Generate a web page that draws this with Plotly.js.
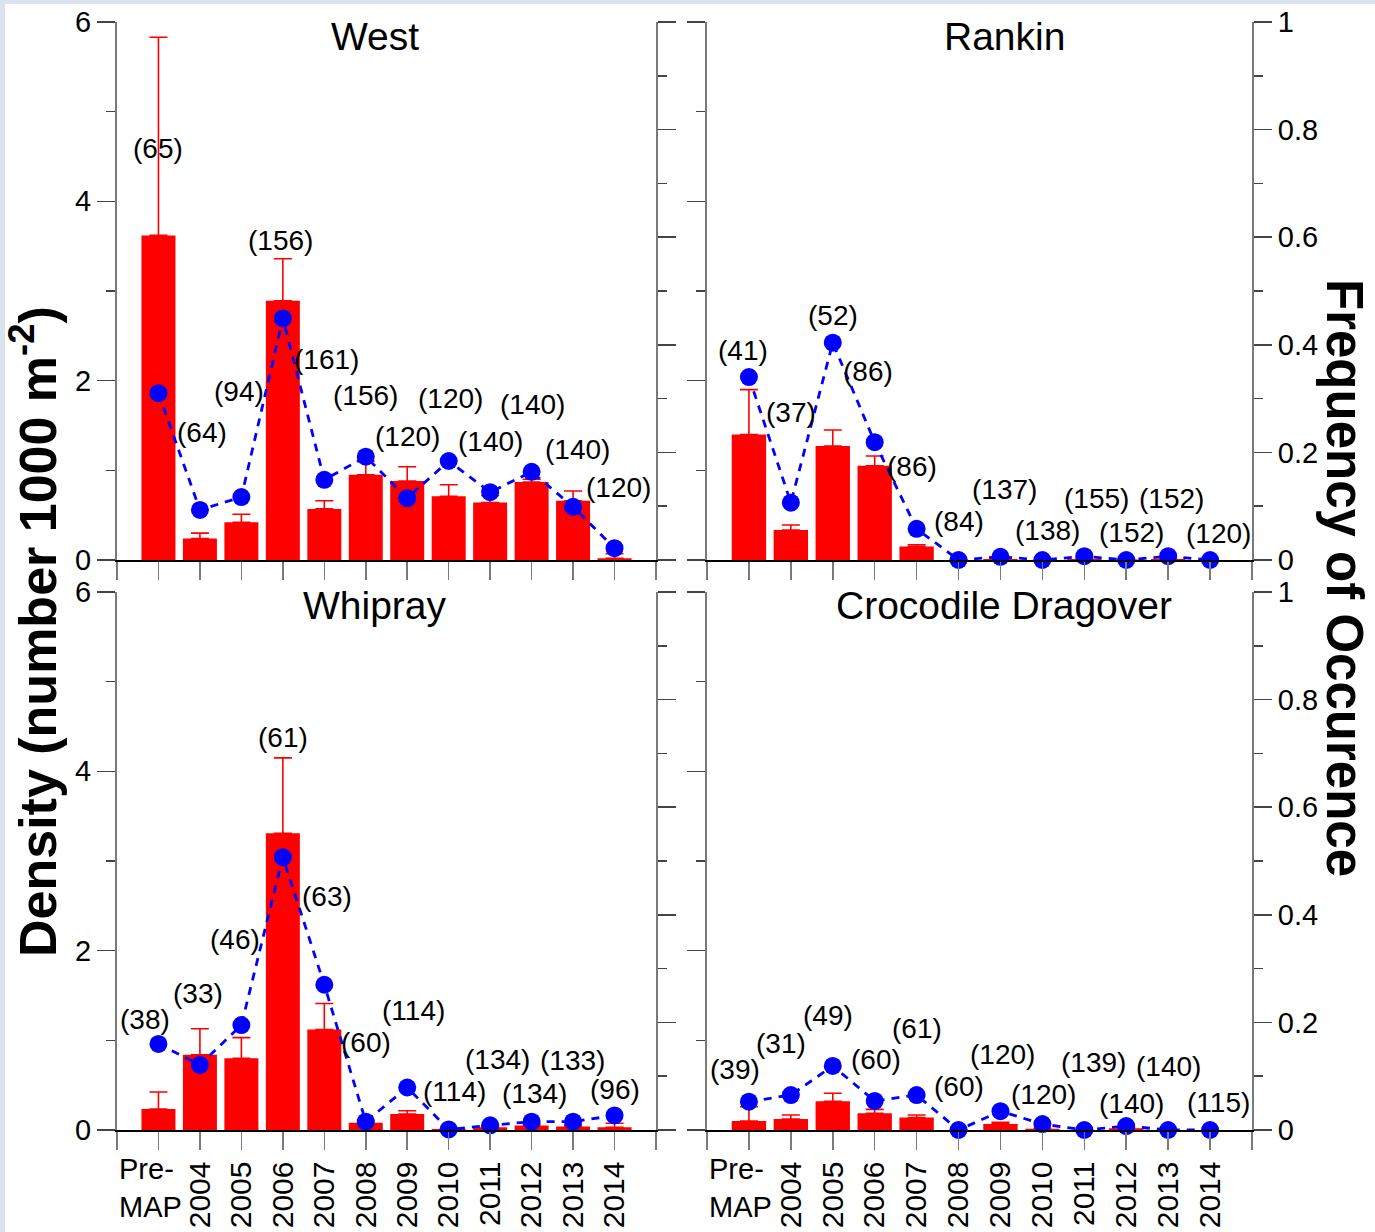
<!DOCTYPE html>
<html>
<head>
<meta charset="utf-8">
<script src="https://cdn.plot.ly/plotly-3.0.1.min.js"></script>
<style>
  html, body { margin: 0; padding: 0; background: #ffffff; }
  #chart { width: 1375px; height: 1232px; }
</style>
</head>
<body>
<div id="chart"></div>
<script>
// ---------- DATA ----------
const categories = ['Pre-MAP','2004','2005','2006','2007','2008','2009','2010','2011','2012','2013','2014'];
const panelNames = ['West', 'Rankin', 'Whipray', 'Crocodile Dragover'];

// West
const westDensity = [3.62, 0.24, 0.42, 2.89, 0.57, 0.95, 0.88, 0.71, 0.64, 0.87, 0.66, 0.02];
const westErrUp   = [2.21, 0.06, 0.09, 0.47, 0.09, 0.15, 0.16, 0.13, 0.08, 0.03, 0.11, 0.05];
const westFreq    = [0.31, 0.093, 0.117, 0.449, 0.149, 0.192, 0.115, 0.184, 0.126, 0.164, 0.099, 0.022];
const westN       = [65, 64, 94, 156, 161, 156, 120, 120, 140, 140, 140, 120];

// Rankin
const rankinDensity = [1.40, 0.335, 1.27, 1.05, 0.15, 0.0, 0.01, 0.0, 0.01, 0.005, 0.01, 0.0];
const rankinErrUp   = [0.50, 0.055, 0.18, 0.11, 0.02, 0.0, 0.01, 0.0, 0.01, 0.005, 0.01, 0.0];
const rankinFreq    = [0.34, 0.1065, 0.404, 0.219, 0.058, 0.0, 0.006, 0.0, 0.007, 0.0, 0.007, 0.0];
const rankinN       = [41, 37, 52, 86, 86, 84, 137, 138, 155, 152, 152, 120];

// Whipray
const whiprayDensity = [0.234, 0.84, 0.80, 3.31, 1.12, 0.08, 0.178, 0.01, 0.03, 0.05, 0.04, 0.03];
const whiprayErrUp   = [0.19, 0.29, 0.23, 0.84, 0.29, 0.03, 0.037, 0.005, 0.01, 0.02, 0.02, 0.045];
const whiprayFreq    = [0.16, 0.121, 0.195, 0.507, 0.27, 0.0155, 0.079, 0.001, 0.0087, 0.0155, 0.0155, 0.027];
const whiprayN       = [38, 33, 46, 61, 63, 60, 114, 114, 134, 134, 133, 96];

// Crocodile Dragover
const crocDensity = [0.10, 0.123, 0.32, 0.186, 0.14, 0.0, 0.067, 0.015, 0.0, 0.02, 0.0, 0.0];
const crocErrUp   = [0.16, 0.044, 0.09, 0.044, 0.027, 0.0, 0.018, 0.005, 0.0, 0.005, 0.0, 0.0];
const crocFreq    = [0.0526, 0.065, 0.119, 0.054, 0.065, 0.0, 0.035, 0.011, 0.0, 0.0074, 0.0, 0.0];
const crocN       = [39, 31, 49, 60, 61, 60, 120, 120, 139, 140, 140, 115];

// ---------- LABEL PLACEMENT (layout only) ----------
const westLabelDx = [0, 0.05, -0.05, -0.05, 0.05, 0, 0, 0.05, 0.02, 0.02, 0.1, 0.1];
const westLabelY  = [4.59, 1.42, 1.88, 3.56, 2.24, 1.83, 1.38, 1.80, 1.32, 1.73, 1.23, 0.81];
const rankinLabelDx = [-0.15, 0, 0, -0.15, -0.1, 0, 0.1, 0.12, 0.3, 0.12, 0.07, 0.2];
const rankinLabelY  = [2.34, 1.64, 2.73, 2.10, 1.04, 0.43, 0.79, 0.33, 0.69, 0.31, 0.69, 0.30];
const whiprayLabelDx = [-0.33, -0.05, -0.15, 0, 0.06, 0, 0.14, 0.15, 0.17, 0.08, -0.02, 0];
const whiprayLabelY  = [1.23, 1.52, 2.12, 4.38, 2.60, 0.98, 1.33, 0.43, 0.79, 0.41, 0.78, 0.45];
const crocLabelDx = [-0.33, -0.24, -0.12, 0.02, 0, 0, 0.04, 0.02, 0.22, 0.12, 0, 0.19];
const crocLabelY  = [0.67, 0.97, 1.28, 0.79, 1.13, 0.49, 0.84, 0.40, 0.75, 0.30, 0.71, 0.31];

// ---------- BUILD ----------
const W = 1375, H = 1232;
const FONT = 'Arial, "Liberation Sans", Helvetica, sans-serif';
const AX_GRAY = '#7a7a7a';
const TICK_SIZE = 29;
const xIdx = categories.map((c, i) => i);

const panels = [
  {name: panelNames[0], d: westDensity, e: westErrUp, f: westFreq, n: westN, dx: westLabelDx, ly: westLabelY,
   px: [117, 656], py: [22, 560], left: true, bottom: false},
  {name: panelNames[1], d: rankinDensity, e: rankinErrUp, f: rankinFreq, n: rankinN, dx: rankinLabelDx, ly: rankinLabelY,
   px: [707, 1252], py: [22, 560], left: false, bottom: false},
  {name: panelNames[2], d: whiprayDensity, e: whiprayErrUp, f: whiprayFreq, n: whiprayN, dx: whiprayLabelDx, ly: whiprayLabelY,
   px: [117, 656], py: [592, 1130], left: true, bottom: true},
  {name: panelNames[3], d: crocDensity, e: crocErrUp, f: crocFreq, n: crocN, dx: crocLabelDx, ly: crocLabelY,
   px: [707, 1252], py: [592, 1130], left: false, bottom: true}
];

const traces = [];
const layout = {
  width: W, height: H,
  margin: {l: 0, r: 0, t: 0, b: 0},
  paper_bgcolor: '#ffffff',
  plot_bgcolor: 'rgba(0,0,0,0)',
  showlegend: false,
  font: {family: FONT, size: TICK_SIZE, color: '#000'},
  annotations: [],
  shapes: [
    {type: 'rect', xref: 'paper', yref: 'paper', x0: 0, x1: 5 / W, y0: 0, y1: 1, fillcolor: '#dae3ef', line: {width: 0}, layer: 'below'},
    {type: 'rect', xref: 'paper', yref: 'paper', x0: 0, x1: 1, y0: 1 - 4 / H, y1: 1, fillcolor: '#dae3ef', line: {width: 0}, layer: 'below'}
  ]
};

panels.forEach((p, k) => {
  const xa = 'x' + (k === 0 ? '' : k + 1);
  const ya = 'y' + (2 * k + 1 === 1 ? '' : 2 * k + 1);
  const ya2 = 'y' + (2 * k + 2);
  const xKey = 'xaxis' + (k === 0 ? '' : k + 1);
  const yKey = 'yaxis' + (2 * k + 1 === 1 ? '' : 2 * k + 1);
  const y2Key = 'yaxis' + (2 * k + 2);

  traces.push({
    type: 'bar', x: xIdx, y: p.d, xaxis: xa, yaxis: ya,
    width: 0.82,
    marker: {color: '#ff0000', line: {width: 0}},
    error_y: {type: 'data', symmetric: false, array: p.e, arrayminus: p.e.map(() => 0),
              color: '#ff0000', thickness: 1.6, width: 9},
    cliponaxis: false, hoverinfo: 'skip'
  });
  traces.push({
    type: 'scatter', mode: 'lines+markers', x: xIdx, y: p.f, xaxis: xa, yaxis: ya2,
    line: {color: '#0000ff', width: 2.8, dash: '8px,7px'},
    marker: {color: '#0000ff', size: 18},
    cliponaxis: false, hoverinfo: 'skip'
  });

  const domX = [p.px[0] / W, p.px[1] / W];
  const domY = [1 - p.py[1] / H, 1 - p.py[0] / H];

  // years as rotated tick labels; Pre-MAP drawn horizontally as an annotation below
  const tickvals = [-1].concat(xIdx).concat([12]);
  const ticktext = [' '].concat(categories.map((c, i) => i === 0 ? ' ' : c)).concat([' ']);

  layout[xKey] = {
    domain: domX, anchor: ya, range: [-1, 12],
    tickmode: 'array', tickvals: tickvals, ticktext: ticktext,
    ticks: 'outside', ticklen: 18, tickwidth: 1.5, tickcolor: AX_GRAY,
    showline: true, linecolor: '#000', linewidth: 1.5,
    showgrid: false, zeroline: false,
    showticklabels: p.bottom, tickangle: -90,
    tickfont: {family: FONT, size: TICK_SIZE + 1, color: '#000'},
    fixedrange: true
  };
  layout[yKey] = {
    domain: domY, anchor: xa, range: [0, 6],
    tickmode: 'array', tickvals: [0, 2, 4, 6],
    ticks: 'outside', ticklen: 18, tickwidth: 1.5, tickcolor: '#444',
    minor: {ticks: 'outside', ticklen: 9, tickwidth: 1.5, tickcolor: '#444', tickmode: 'array', tickvals: [1, 3, 5], showgrid: false},
    showline: true, linecolor: AX_GRAY, linewidth: 2,
    showgrid: false, zeroline: false,
    showticklabels: p.left,
    tickfont: {family: FONT, size: TICK_SIZE, color: '#000'},
    fixedrange: true
  };
  layout[y2Key] = {
    domain: domY, anchor: xa, overlaying: ya, side: 'right', range: [0, 1],
    tickmode: 'array', tickvals: [0, 0.2, 0.4, 0.6, 0.8, 1], ticktext: ['0', '0.2', '0.4', '0.6', '0.8', '1'],
    ticks: 'outside', ticklen: 18, tickwidth: 1.5, tickcolor: '#444',
    minor: {ticks: 'outside', ticklen: 9, tickwidth: 1.5, tickcolor: '#444', tickmode: 'array', tickvals: [0.1, 0.3, 0.5, 0.7, 0.9], showgrid: false},
    showline: true, linecolor: AX_GRAY, linewidth: 2,
    showgrid: false, zeroline: false,
    showticklabels: !p.left,
    tickfont: {family: FONT, size: TICK_SIZE, color: '#000'},
    fixedrange: true
  };

  // sample-size labels
  p.n.forEach((v, i) => {
    layout.annotations.push({
      xref: xa, yref: ya, x: i + p.dx[i], y: p.ly[i],
      text: '(' + v + ')', showarrow: false,
      font: {family: FONT, size: 28, color: '#000'}
    });
  });

  // panel title
  layout.annotations.push({
    xref: 'paper', yref: 'paper',
    x: (p.left ? 375 : 1004) / W, y: 1 - (p.py[0] + 14) / H,
    text: p.name, showarrow: false, xanchor: 'center', yanchor: 'middle',
    font: {family: FONT, size: 39, color: '#000'}
  });

  // Pre-MAP category label (horizontal, unlike the rotated years)
  if (p.bottom) {
    layout.annotations.push({
      xref: xa, yref: 'paper', x: 0, xshift: -8,
      y: 1 - 1151 / H, yanchor: 'top', xanchor: 'center', align: 'left',
      text: categories[0].replace('-', '-<br>'), showarrow: false,
      font: {family: FONT, size: 29, color: '#000'}
    });
  }
});

// axis titles
layout.annotations.push({
  xref: 'paper', yref: 'paper', x: 34 / W, y: 1 - 632 / H,
  text: 'Density (number 1000 m<sup>-2</sup>)', textangle: -90, showarrow: false,
  xanchor: 'center', yanchor: 'middle',
  font: {family: FONT, size: 52, color: '#000', weight: 'bold'}
});
layout.annotations.push({
  xref: 'paper', yref: 'paper', x: 1344 / W, y: 1 - 578 / H,
  text: 'Frequency of Occurence', textangle: 90, showarrow: false,
  xanchor: 'center', yanchor: 'middle',
  font: {family: FONT, size: 51, color: '#000', weight: 'bold'}
});

Plotly.newPlot('chart', traces, layout, {staticPlot: true, displayModeBar: false});
</script>
</body>
</html>
